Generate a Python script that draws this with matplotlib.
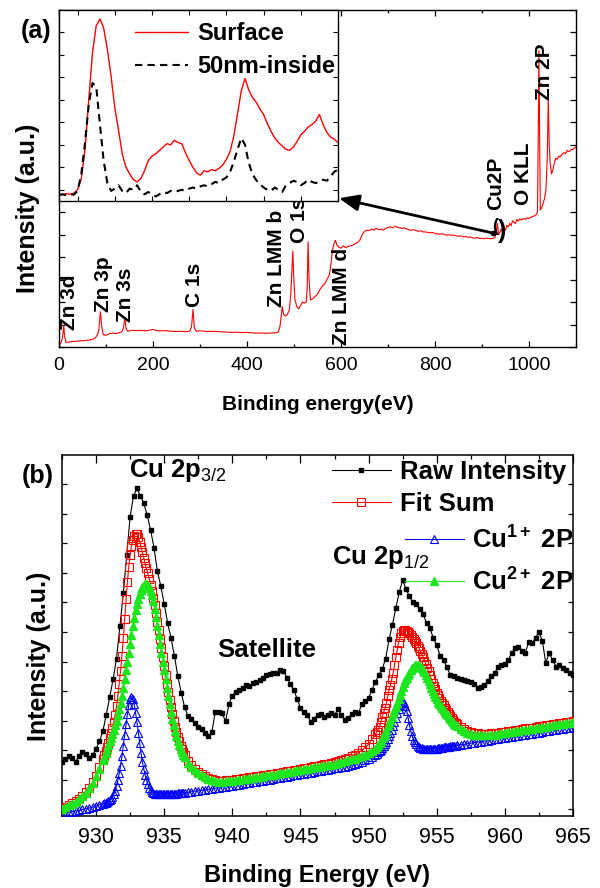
import matplotlib
matplotlib.use("Agg")
import matplotlib.pyplot as plt
import numpy as np
from matplotlib.ticker import MultipleLocator, NullFormatter

plt.rcParams['font.family'] = 'Liberation Sans'
plt.rcParams['mathtext.fontset'] = 'custom'
plt.rcParams['mathtext.rm'] = 'Liberation Sans'
plt.rcParams['mathtext.it'] = 'Liberation Sans:italic'
plt.rcParams['mathtext.bf'] = 'Liberation Sans:bold'

# ---- (a) wide survey scan ----
survey_ev = [0, 3, 6, 8, 10, 12, 15, 20, 30, 40,
             50, 60, 70, 77, 82, 85, 88, 91, 94, 100,
             108, 115, 120, 128, 134, 137, 140, 143, 146, 155,
             165, 175, 185, 195, 200, 210, 220, 230, 240, 250,
             260, 270, 278, 282, 285, 288, 292, 300, 310, 320,
             330, 340, 350, 360, 370, 380, 390, 400, 410, 420,
             430, 440, 450, 460, 466, 470, 473, 475, 478, 482,
             486, 490, 493, 496, 497.5, 499, 502, 506, 510, 514,
             518, 522, 526, 528, 530, 532, 535, 540, 545, 550,
             555, 560, 565, 570, 575, 578, 582, 585, 588, 591,
             595, 600, 605, 610, 615, 620, 625, 630, 635, 640,
             645, 650, 655, 660, 665, 670, 675, 680, 685, 690,
             695, 700, 705, 710, 715, 720, 725, 730, 735, 740,
             745, 750, 755, 760, 765, 770, 775, 780, 785, 790,
             795, 800, 805, 810, 815, 820, 825, 830, 835, 840,
             845, 850, 855, 860, 865, 870, 875, 880, 885, 890,
             895, 900, 905, 910, 915, 920, 925, 928, 931, 933,
             935, 938, 941, 944, 947, 950, 953, 956, 959, 962,
             965, 968, 971, 974, 977, 980, 984, 988, 992, 996,
             1000, 1004, 1008, 1012, 1016, 1018, 1019.5, 1021, 1022.5, 1024,
             1027, 1030, 1033, 1036, 1039, 1041, 1043, 1045, 1048, 1051,
             1054, 1057, 1060, 1063, 1066, 1069, 1072, 1075, 1078, 1081,
             1084, 1087, 1090, 1093, 1096, 1100]
survey_int = [0.05, 0.15, 0.3, 0.5, 0.97, 0.45, 0.2, 0.22, 0.25, 0.26,
              0.28, 0.3, 0.33, 0.4, 0.55, 0.8, 1.57, 0.9, 0.55, 0.52,
              0.6, 0.62, 0.6, 0.63, 0.68, 0.85, 1.25, 0.8, 0.7, 0.74,
              0.73, 0.74, 0.72, 0.76, 0.78, 0.72, 0.73, 0.72, 0.7, 0.69,
              0.7, 0.68, 0.7, 0.9, 1.67, 0.85, 0.7, 0.72, 0.7, 0.69,
              0.7, 0.68, 0.67, 0.66, 0.65, 0.66, 0.64, 0.65, 0.63, 0.62,
              0.62, 0.61, 0.62, 0.63, 0.66, 0.9, 1.4, 1.8, 1.45, 1.38,
              1.45, 1.65, 2.3, 3.6, 4.28, 3.3, 2.1, 1.8, 1.7, 1.85,
              2.0, 1.95, 2.0, 2.6, 4.68, 3.0, 2.1, 2.15, 2.25, 2.35,
              2.55, 2.7, 2.8, 3.0, 3.2, 3.6, 4.3, 4.6, 4.75, 4.55,
              4.45, 4.4, 4.5, 4.42, 4.48, 4.5, 4.53, 4.6, 4.65, 4.75,
              5.0, 5.15, 5.2, 5.18, 5.25, 5.2, 5.28, 5.22, 5.25, 5.2,
              5.28, 5.32, 5.35, 5.3, 5.38, 5.33, 5.3, 5.28, 5.3, 5.25,
              5.22, 5.2, 5.22, 5.18, 5.15, 5.17, 5.12, 5.12, 5.1, 5.08,
              5.1, 5.05, 5.03, 5.02, 5.04, 5.0, 4.98, 5.0, 4.97, 4.98,
              4.95, 4.93, 4.95, 4.9, 4.92, 4.88, 4.9, 4.86, 4.85, 4.87,
              4.83, 4.84, 4.82, 4.85, 4.83, 4.82, 4.84, 4.9, 5.2, 5.5,
              5.0, 5.1, 5.25, 5.1, 5.3, 5.2, 5.42, 5.35, 5.5, 5.4,
              5.62, 5.55, 5.5, 5.68, 5.6, 5.7, 5.65, 5.72, 5.68, 5.75,
              5.72, 5.78, 5.8, 5.85, 5.9, 6.0, 9.0, 13.2, 9.5, 6.1,
              6.2, 6.4, 6.6, 7.0, 8.5, 11.1, 9.0, 8.2, 7.7, 7.9,
              8.2, 8.4, 8.35, 8.5, 8.45, 8.55, 8.6, 8.65, 8.6, 8.75,
              8.7, 8.72, 8.8, 8.78, 8.85, 8.9]

# inset: Cu 2p region, surface vs 50 nm below surface
inset_ev = np.arange(927.5, 965.01, 0.5)
surface = [0.3, 0.28, 0.33, 0.3, 0.35, 0.5, 1.0, 2.3,
           4.5, 6.6, 7.8, 8.1, 7.7, 6.75, 5.55, 4.15,
           3.15, 2.1, 1.5, 1.2, 0.95, 0.85, 1.0, 1.35,
           1.8, 2.0, 2.1, 2.25, 2.4, 2.55, 2.5, 2.7,
           2.6, 2.55, 2.15, 1.8, 1.5, 1.25, 1.15, 1.35,
           1.3, 1.4, 1.35, 1.45, 1.6, 1.85, 2.2, 2.9,
           3.9, 4.9, 5.45, 4.95, 4.6, 4.4, 4.1, 3.85,
           3.45, 3.1, 2.8, 2.6, 2.45, 2.3, 2.25, 2.4,
           2.65, 2.95, 3.1, 3.3, 3.4, 3.55, 3.85, 3.4,
           3.05, 2.85, 2.75, 2.6]
inside = [0.27, 0.3, 0.25, 0.3, 0.28, 0.45, 1.2, 2.6,
          4.3, 5.25, 5.1, 3.4, 1.8, 0.8, 0.45, 0.55,
          0.7, 0.45, 0.35, 0.55, 0.5, 0.7, 0.4, 0.3,
          0.4, 0.3, 0.2, 0.3, 0.4, 0.35, 0.45, 0.4,
          0.45, 0.5, 0.45, 0.55, 0.6, 0.55, 0.65, 0.7,
          0.65, 0.75, 0.85, 0.8, 0.95, 1.05, 1.3, 1.75,
          2.3, 2.8, 2.5, 1.7, 1.2, 0.93, 0.75, 0.6,
          0.5, 0.45, 0.6, 0.5, 0.4, 0.7, 0.8, 0.9,
          0.85, 0.7, 0.8, 0.95, 0.85, 0.8, 0.85, 0.95,
          0.9, 1.1, 1.3, 1.4]

# ---- (b) Cu 2p high resolution scan ----
raw_ev = np.arange(927.5, 965.01, 0.25)
raw = [0.6, 0.7, 0.82, 0.75, 0.62, 0.8, 0.95, 0.88,
       0.74, 0.85, 1.05, 1.3, 1.65, 2.2, 2.8, 3.4,
       4.1, 5.2, 6.3, 7.6, 8.9, 9.6, 9.85, 9.6,
       9.35, 8.95, 8.45, 7.85, 7.05, 6.55, 5.95, 5.3,
       4.8, 4.2, 3.5, 2.95, 2.45, 2.15, 2.05, 1.92,
       1.8, 1.72, 1.6, 1.48, 1.62, 2.3, 2.28, 2.25,
       1.98, 2.55, 2.85, 2.98, 3.05, 3.12, 3.2, 3.18,
       3.26, 3.32, 3.38, 3.45, 3.55, 3.58, 3.62, 3.6,
       3.7, 3.68, 3.45, 3.25, 3.05, 2.75, 2.42, 2.3,
       2.18, 1.97, 2.06, 2.2, 2.22, 2.14, 2.2, 2.25,
       2.2, 2.38, 2.2, 2.03, 2.08, 2.22, 2.3, 2.25,
       2.55, 2.68, 2.76, 3.05, 3.3, 3.55, 3.75, 4.1,
       4.75, 5.25, 5.8, 6.35, 6.75, 6.45, 6.2, 6.0,
       5.95, 5.78, 5.6, 5.3, 5.12, 4.8, 4.55, 4.2,
       4.05, 3.8, 3.55, 3.52, 3.46, 3.4, 3.38, 3.34,
       3.3, 3.25, 3.12, 3.15, 3.2, 3.35, 3.5, 3.62,
       3.8, 3.88, 3.92, 4.05, 4.3, 4.45, 4.5, 4.35,
       4.3, 4.65, 4.62, 4.8, 5.0, 4.7, 3.95, 4.28,
       4.05, 3.83, 3.89, 3.78, 3.7, 3.6, 3.55]

# fitted curves: finer sampling across the two main peaks
fit_ev = np.concatenate([np.linspace(927.5, 930.25, 12),
                         np.linspace(930.5, 936.5, 61),
                         np.linspace(936.75, 950.25, 55),
                         np.linspace(950.5, 956.5, 61),
                         np.linspace(956.75, 965.0, 34)])
fit_sum = [
    -0.95, -0.9, -0.84, -0.78, -0.71, -0.63, -0.53, -0.41, -0.26, -0.08, 0.14, 0.42,
    0.72, 0.85, 0.98, 1.11, 1.25, 1.4, 1.57, 1.75, 1.95, 2.2, 2.5, 2.85, 3.25, 3.68, 4.2,
    4.8, 5.45, 6.1, 6.7, 7.2, 7.6, 7.9, 8.1, 8.25, 8.32, 8.3, 8.2, 8.05, 7.88, 7.7, 7.5,
    7.32, 7.15, 6.98, 6.8, 6.6, 6.38, 6.15, 5.92, 5.65, 5.35, 5.05, 4.75, 4.45, 4.15, 3.85,
    3.55, 3.25, 2.97, 2.7, 2.45, 2.22, 2.0, 1.8, 1.62, 1.45, 1.3, 1.16, 1.05, 0.95, 0.85,
    0.65, 0.5, 0.38, 0.28, 0.19, 0.12, 0.07, 0.03, 0.0, -0.03, -0.03,
    -0.02, -0.01, 0.0, 0.02, 0.04, 0.05, 0.07, 0.09, 0.11, 0.12, 0.14, 0.16, 0.18, 0.19,
    0.21, 0.23, 0.25, 0.27, 0.29, 0.31, 0.33, 0.35, 0.37, 0.39, 0.41, 0.43, 0.46, 0.48,
    0.5, 0.53, 0.55, 0.58, 0.61, 0.64, 0.67, 0.71, 0.75, 0.8, 0.85, 0.92, 1.0, 1.1, 1.2, 1.38,
    1.55, 1.62, 1.7, 1.8, 1.95, 2.13, 2.27, 2.42, 2.6, 2.82, 3.04, 3.22, 3.4, 3.62, 3.88,
    4.15, 4.4, 4.63, 4.82, 4.95, 5.02, 5.05, 5.06, 5.04, 5.01, 4.97, 4.91, 4.84, 4.77, 4.7,
    4.63, 4.54, 4.45, 4.35, 4.25, 4.15, 4.03, 3.91, 3.79, 3.67, 3.55, 3.42, 3.29, 3.17, 3.06,
    2.95, 2.86, 2.77, 2.68, 2.6, 2.52, 2.44, 2.36, 2.29, 2.22, 2.15, 2.09, 2.03, 1.97, 1.92,
    1.88,
    1.79, 1.72, 1.66, 1.62, 1.59, 1.57, 1.56, 1.56, 1.56, 1.57, 1.58,
    1.59, 1.61, 1.63, 1.65, 1.66, 1.68, 1.70, 1.72, 1.74, 1.75, 1.77, 1.79, 1.81, 1.83,
    1.84, 1.86, 1.88, 1.90, 1.92, 1.93, 1.95, 1.97, 1.99]
cu1 = [
    -1.14, -1.12, -1.10, -1.07, -1.05, -1.03, -1.00, -0.97, -0.95, -0.92, -0.88, -0.84,
    -0.81, -0.79, -0.77, -0.75, -0.72, -0.69, -0.64, -0.57, -0.48, -0.36, -0.2, 0.0, 0.22,
    0.48, 0.8, 1.15, 1.52, 1.89, 2.23, 2.52, 2.72, 2.8, 2.75, 2.55, 2.25, 1.95, 1.6, 1.25,
    0.9, 0.6, 0.37, 0.16, 0.0, -0.14, -0.26, -0.35, -0.41, -0.45, -0.47, -0.48, -0.48,
    -0.49, -0.49, -0.49, -0.48, -0.48, -0.48, -0.48, -0.48, -0.47, -0.47, -0.47, -0.46,
    -0.46, -0.46, -0.45, -0.45, -0.44, -0.44, -0.43, -0.43,
    -0.42, -0.40, -0.38, -0.37, -0.35, -0.33, -0.32, -0.30, -0.28, -0.27, -0.25,
    -0.23, -0.21, -0.19, -0.18, -0.16, -0.14, -0.12, -0.10, -0.08, -0.06, -0.04, -0.03,
    -0.01, 0.01, 0.03, 0.05, 0.07, 0.09, 0.11, 0.13, 0.15, 0.17, 0.19, 0.21, 0.23, 0.25,
    0.27, 0.29, 0.31, 0.33, 0.35, 0.37, 0.39, 0.41, 0.43, 0.45, 0.47, 0.49, 0.55, 0.58,
    0.62, 0.66, 0.71, 0.77,
    0.85, 0.89, 0.93, 0.97, 1.02, 1.08, 1.14, 1.21, 1.29, 1.38, 1.48, 1.59, 1.7, 1.83,
    1.96, 2.1, 2.25, 2.39, 2.52, 2.61, 2.64, 2.6, 2.5, 2.33, 2.1, 1.85, 1.64, 1.48, 1.36,
    1.27, 1.2, 1.15, 1.11, 1.09, 1.07, 1.06, 1.05, 1.04, 1.04, 1.04, 1.04, 1.05, 1.05,
    1.05, 1.06, 1.06, 1.07, 1.08, 1.08, 1.09, 1.10, 1.10, 1.11, 1.12, 1.12, 1.13, 1.14,
    1.14, 1.15, 1.16, 1.17,
    1.19, 1.20, 1.22, 1.24, 1.26, 1.28, 1.29, 1.31, 1.33, 1.35, 1.37,
    1.38, 1.40, 1.42, 1.44, 1.46, 1.47, 1.49, 1.51, 1.53, 1.55, 1.56, 1.58, 1.60, 1.62,
    1.64, 1.65, 1.67, 1.69, 1.71, 1.73, 1.74, 1.76, 1.78]
cu2 = [
    -0.97, -0.92, -0.86, -0.8, -0.73, -0.65, -0.55, -0.43, -0.28, -0.1, 0.12, 0.38,
    0.66, 0.79, 0.92, 1.04, 1.17, 1.3, 1.43, 1.56, 1.69, 1.84, 2.0, 2.18, 2.39, 2.61, 2.85,
    3.1, 3.4, 3.7, 4.0, 4.3, 4.6, 4.9, 5.2, 5.48, 5.73, 5.95, 6.13, 6.29, 6.42, 6.53, 6.6,
    6.63, 6.62, 6.57, 6.5, 6.4, 6.24, 6.03, 5.78, 5.5, 5.2, 4.9, 4.6, 4.3, 4.0, 3.7,
    3.4, 3.1, 2.82, 2.55, 2.3, 2.07, 1.85, 1.66, 1.49, 1.33, 1.19, 1.06, 0.95, 0.85, 0.76,
    0.57, 0.43, 0.32, 0.23, 0.15, 0.09, 0.04, 0.0, -0.03, -0.06, -0.06,
    -0.05, -0.04, -0.03, -0.01, 0.01, 0.02, 0.04, 0.06, 0.08, 0.09, 0.11, 0.13, 0.15, 0.16,
    0.18, 0.20, 0.22, 0.24, 0.26, 0.28, 0.30, 0.32, 0.34, 0.36, 0.38, 0.40, 0.42, 0.44,
    0.46, 0.48, 0.50, 0.52, 0.55, 0.57, 0.60, 0.63, 0.66, 0.69, 0.72, 0.76, 0.80, 0.85,
    0.90, 0.97,
    1.05, 1.11, 1.17, 1.24, 1.32, 1.4, 1.5, 1.6, 1.7, 1.81, 1.92, 2.03, 2.14, 2.25, 2.36,
    2.47, 2.6, 2.73, 2.87, 3.01, 3.15, 3.26, 3.36, 3.45, 3.54, 3.62, 3.7, 3.77, 3.83, 3.87,
    3.89, 3.89, 3.87, 3.83, 3.78, 3.72, 3.64, 3.55, 3.45, 3.34, 3.23, 3.12, 3.01, 2.9, 2.81,
    2.72, 2.64, 2.56, 2.49, 2.42, 2.36, 2.3, 2.24, 2.18, 2.11, 2.05, 2.0, 1.95, 1.9, 1.86,
    1.82,
    1.73, 1.66, 1.6, 1.56, 1.53, 1.52, 1.51, 1.51, 1.51, 1.52, 1.53,
    1.55, 1.57, 1.59, 1.61, 1.62, 1.64, 1.66, 1.68, 1.70, 1.71, 1.73, 1.75, 1.77, 1.79,
    1.80, 1.82, 1.84, 1.86, 1.88, 1.89, 1.91, 1.93, 1.95]

RED = '#ff0000'
BLUE = '#0000ff'
GREEN = '#1ee61e'
BOLD = dict(fontweight='bold')

fig = plt.figure(figsize=(6, 8.88), dpi=100)


def px_box(left, top, right, bottom):
    return [left / 600, 1 - bottom / 888, (right - left) / 600, (bottom - top) / 888]


# ---------------- panel (a) ----------------
ax_a = fig.add_axes(px_box(59, 10, 576, 347))
ax_a.plot(survey_ev, survey_int, color=RED, lw=0.8)
ax_a.set_xlim(0, 1100)
ax_a.set_ylim(0, 15)
ax_a.xaxis.set_major_locator(MultipleLocator(200))
ax_a.xaxis.set_minor_locator(MultipleLocator(100))
ax_a.yaxis.set_major_locator(MultipleLocator(1))
ax_a.yaxis.set_major_formatter(NullFormatter())
ax_a.tick_params(which='both', direction='in', top=True, right=True, width=0.9)
ax_a.tick_params(which='major', length=4, labelsize=14, pad=7)
ax_a.tick_params(which='minor', length=2.5)
for s in ax_a.spines.values():
    s.set_linewidth(1.0)

peak_labels = [('Zn 3d', 23, 0.76), ('Zn 3p', 94, 1.56), ('Zn 3s', 142, 1.1),
               ('C 1s', 289, 1.78), ('Zn LMM b', 463, 1.78), ('O 1s', 511, 4.62),
               ('Zn LMM d', 601, 0.09), ('Cu2P', 928, 6.09), ('O KLL', 988, 6.31),
               ('Zn 2P', 1034, 10.98)]
for txt, x, y in peak_labels:
    ax_a.text(x, y, txt, rotation=90, ha='center', va='bottom', fontsize=15, **BOLD)

# brackets around the Cu 2p feature and arrow to the inset
ax_a.text(927.7, 5.38, '(', ha='center', va='center', fontsize=13, **BOLD)
ax_a.text(943.6, 5.18, ')', ha='center', va='center', fontsize=18, **BOLD)
ax_a.plot([923.4], [5.07], 'ko', ms=3)
ax_a.annotate('', xy=(595.7, 6.62), xytext=(923.4, 5.07),
              arrowprops=dict(arrowstyle='-|>,head_length=0.6,head_width=0.25',
                              color='k', lw=2, shrinkA=0, shrinkB=0,
                              mutation_scale=20))

# inset
ax_in = fig.add_axes(px_box(59, 10, 338, 201))
ax_in.plot(inset_ev, surface, color=RED, lw=1.0, label='Surface')
ax_in.plot(inset_ev, inside, color='k', lw=1.5, ls=(0, (3.5, 2.5)), label='50nm-inside')
ax_in.set_xlim(927.5, 965)
ax_in.set_ylim(0, 8.5)
ax_in.set_xticks(np.arange(930, 961, 5))
ax_in.set_yticks(np.arange(0.5, 8.5, 1))
ax_in.tick_params(which='both', direction='in', top=True, right=True, length=3.5,
                  width=0.8, labelbottom=False, labelleft=False)
for s in ax_in.spines.values():
    s.set_linewidth(1.0)
ax_in.legend(loc='upper left', bbox_to_anchor=(0.272, 0.935), frameon=False,
             prop=dict(size=17, weight='bold'), handlelength=2.25,
             handletextpad=0.38, labelspacing=0.4, borderpad=0, borderaxespad=0)

fig.text(36 / 600, 1 - 31 / 888, '(a)', ha='center', va='center', fontsize=18, **BOLD)
fig.text(28 / 600, 1 - 208 / 888, 'Intensity (a.u.)', rotation=90,
         ha='center', va='center', fontsize=18, **BOLD)
fig.text(317.5 / 600, 1 - 404 / 888, 'Binding energy(eV)',
         ha='center', va='center', fontsize=15, **BOLD)

# ---------------- panel (b) ----------------
ax_b = fig.add_axes(px_box(62, 455, 573, 816))
l_raw, = ax_b.plot(raw_ev, raw, color='k', lw=0.8, marker='s', ms=3.5,
                   label='Raw Intensity', zorder=2)
l_sum, = ax_b.plot(fit_ev, fit_sum, color=RED, lw=0.8, marker='s', ms=5.5,
                   mfc='none', mew=0.8, label='Fit Sum', zorder=3)
l_cu1, = ax_b.plot(fit_ev, cu1, color=BLUE, lw=0.8, marker='^', ms=6,
                   mfc='none', mew=0.8, label=r'Cu$^{\mathbf{1+}}$ 2P', zorder=4)
l_cu2, = ax_b.plot(fit_ev, cu2, color=GREEN, lw=0.8, marker='^', ms=6,
                   mec=GREEN, label=r'Cu$^{\mathbf{2+}}$ 2P', zorder=5)
ax_b.set_xlim(927.5, 965)
ax_b.set_ylim(-1.22, 10.98)
ax_b.xaxis.set_major_locator(MultipleLocator(5))
ax_b.xaxis.set_minor_locator(MultipleLocator(2.5))
ax_b.yaxis.set_major_locator(MultipleLocator(1))
ax_b.yaxis.set_major_formatter(NullFormatter())
ax_b.tick_params(which='both', direction='in', top=True, right=True, width=0.9)
ax_b.tick_params(axis='x', which='major', length=5.5, labelsize=15.5, pad=8)
ax_b.tick_params(axis='x', which='minor', length=3)
ax_b.tick_params(axis='y', which='major', length=3.5)
for s in ax_b.spines.values():
    s.set_linewidth(1.1)

ax_b.text(932.43, 10.24, r'Cu 2p$_{\mathrm{3/2}}$', ha='left', va='baseline',
          fontsize=18.5, **BOLD)
ax_b.text(947.28, 7.3, r'Cu 2p$_{\mathrm{1/2}}$', ha='left', va='baseline',
          fontsize=18.5, **BOLD)
ax_b.text(938.88, 4.17, 'Satellite', ha='left', va='baseline', fontsize=18.5, **BOLD)

leg1 = ax_b.legend(handles=[l_raw, l_sum], loc='upper left', bbox_to_anchor=(0.528, 0.985),
                   frameon=False, prop=dict(size=18.5, weight='bold'), numpoints=1,
                   handlelength=2.3, handletextpad=0.35, labelspacing=0.3,
                   borderpad=0, borderaxespad=0)
ax_b.add_artist(leg1)
ax_b.legend(handles=[l_cu1, l_cu2], loc='upper left', bbox_to_anchor=(0.671, 0.803),
            frameon=False, prop=dict(size=18.5, weight='bold'), numpoints=1,
            handlelength=2.3, handletextpad=0.31, labelspacing=0.57,
            borderpad=0, borderaxespad=0)

fig.text(38 / 600, 1 - 476 / 888, '(b)', ha='center', va='center', fontsize=18, **BOLD)
fig.text(39 / 600, 1 - 656 / 888, 'Intensity (a.u.)', rotation=90,
         ha='center', va='center', fontsize=18, **BOLD)
fig.text(317.5 / 600, 1 - 875 / 888, 'Binding Energy (eV)',
         ha='center', va='center', fontsize=17, **BOLD)

fig.savefig('out.png', dpi=100)
